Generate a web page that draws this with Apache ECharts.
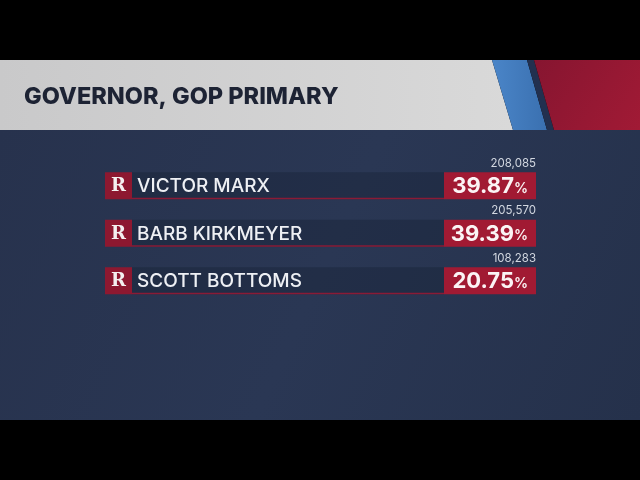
<!DOCTYPE html>
<html>
<head>
<meta charset="utf-8">
<script src="https://cdn.jsdelivr.net/npm/echarts@6/dist/echarts.min.js"></script>
<style>
  html, body { margin: 0; padding: 0; background: #000; }
  #chart { width: 640px; height: 480px; }
</style>
</head>
<body>
<div id="chart"></div>
<script>
// race data
const title = 'GOVERNOR, GOP PRIMARY';
const candidates = ['VICTOR MARX', 'BARB KIRKMEYER', 'SCOTT BOTTOMS'];
const parties = ['R', 'R', 'R'];
const votes = [208085, 205570, 108283];
const percents = [39.87, 39.39, 20.75];

const RED = '#a11a33';
const RED_DARK = '#8d1830';

/**
 * one row: party box, name strip, percent box, vote count above
 */
const renderRow = (params, api) => {
    const i = api.value(1);
    const left = api.coord([0, i]);
    const partyEnd = api.coord([27, i])[0];
    const pctStart = api.coord([339, i])[0];
    const right = api.coord([431, i])[0];
    const cy = left[1];
    const h = 27;
    const top = cy - h / 2;
    return {
        type: 'group',
        children: [
            // name strip
            { type: 'rect', shape: { x: partyEnd, y: top, width: pctStart - partyEnd, height: h },
              style: { fill: 'rgba(18,25,42,0.3)' } },
            { type: 'rect', shape: { x: partyEnd, y: top + h - 1.5, width: pctStart - partyEnd, height: 1.5 },
              style: { fill: '#8a1b36' } },
            // party box
            { type: 'rect', shape: { x: left[0], y: top, width: partyEnd - left[0], height: h },
              style: { fill: RED_DARK } },
            { type: 'text', x: (left[0] + partyEnd) / 2, y: cy + 1,
              style: { text: parties[i], fill: '#f4f0f0', font: 'bold 18px "DejaVu Serif"',
                       align: 'center', verticalAlign: 'middle' } },
            // name
            { type: 'text', x: partyEnd + 5, y: cy + 1,
              style: { text: candidates[i], fill: '#eef0f4', font: '500 19px Inter',
                       align: 'left', verticalAlign: 'middle' } },
            // percent box
            { type: 'rect', shape: { x: pctStart, y: top, width: right - pctStart, height: h },
              style: { fill: RED } },
            { type: 'text', x: right - 8, y: cy + 1,
              style: {
                  text: '{n|' + percents[i].toFixed(2) + '}{p|%}',
                  align: 'right', verticalAlign: 'middle',
                  rich: {
                      n: { fill: '#fbf4f5', font: 'bold 22px Inter', verticalAlign: 'bottom' },
                      p: { fill: '#fbf4f5', font: '600 14px Inter', verticalAlign: 'bottom', padding: [0, 0, 2, 0] }
                  }
              } },
            // vote count
            { type: 'text', x: right, y: top - 9,
              style: { text: votes[i].toLocaleString('en-US'), fill: '#d2d7e0', font: '11.5px Inter',
                       align: 'right', verticalAlign: 'middle' } }
        ]
    };
};

const chart = echarts.init(document.getElementById('chart'), null, { width: 640, height: 480 });

chart.setOption({
    backgroundColor: '#000',
    animation: false,
    graphic: [
        // body panel
        { type: 'rect', z: -10, shape: { x: 0, y: 130, width: 640, height: 290 },
          style: { fill: new echarts.graphic.LinearGradient(0, 0, 1, 1, [
              { offset: 0, color: '#27324d' }, { offset: 0.5, color: '#2a3754' }, { offset: 1, color: '#25314b' }]) } },
        // header
        { type: 'polygon', z: -9, shape: { points: [[0, 60], [492, 60], [513, 130], [0, 130]] },
          style: { fill: new echarts.graphic.LinearGradient(0, 0, 1, 0, [
              { offset: 0, color: '#c9c9ca' }, { offset: 1, color: '#d9d9d9' }]) } },
        { type: 'polygon', z: -9, shape: { points: [[492, 60], [527, 60], [547, 130], [513, 130]] },
          style: { fill: new echarts.graphic.LinearGradient(0, 0, 1, 0, [
              { offset: 0, color: '#4a85c8' }, { offset: 1, color: '#3a70b0' }]) } },
        { type: 'polygon', z: -9, shape: { points: [[527, 60], [534, 60], [554, 130], [547, 130]] },
          style: { fill: '#22304f' } },
        { type: 'polygon', z: -9, shape: { points: [[534, 60], [640, 60], [640, 130], [554, 130]] },
          style: { fill: new echarts.graphic.LinearGradient(0, 0, 1, 1, [
              { offset: 0, color: '#861530' }, { offset: 1, color: '#a11a35' }]) } },
        { type: 'text', z: -8, x: 24, y: 97,
          style: { text: title, fill: '#1d2334', font: '800 23.5px Inter', verticalAlign: 'middle' } }
    ],
    grid: { left: 105, right: 104, top: 162, height: 142.5 },
    xAxis: { type: 'value', min: 0, max: 431, show: false },
    yAxis: { type: 'category', data: candidates, inverse: true, show: false },
    series: [{
        type: 'custom',
        renderItem: renderRow,
        data: candidates.map((name, i) => [0, i]),
        encode: { x: 0, y: 1 }
    }]
});
</script>
</body>
</html>
